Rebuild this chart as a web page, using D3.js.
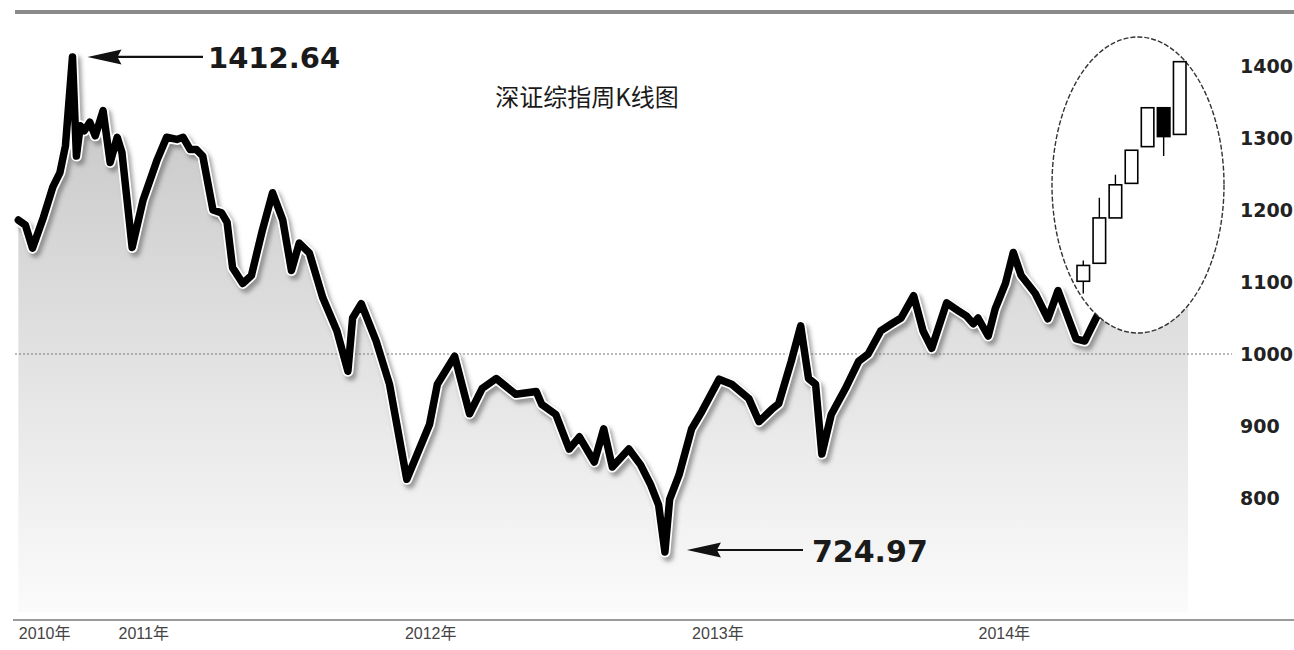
<!DOCTYPE html>
<html>
<head>
<meta charset="utf-8">
<script src="https://cdn.jsdelivr.net/npm/d3@7/dist/d3.min.js"></script>
<style>
  html, body { margin: 0; padding: 0; background: #fff; overflow: hidden; }
  svg { display: block; }
</style>
</head>
<body>
<svg id="chart" width="1294" height="650"></svg>
<script>
// ---------------- DATA ----------------
const dates = [
"2010-08-27","2010-09-05","2010-09-14","2010-09-28","2010-10-10","2010-10-19","2010-10-26","2010-11-04","2010-11-09","2010-11-14","2010-11-19","2010-11-26","2010-12-03","2010-12-13","2010-12-22","2010-12-31",
"2011-01-06","2011-01-19","2011-02-02","2011-02-20","2011-03-04","2011-03-17","2011-03-25","2011-04-03","2011-04-11","2011-04-19","2011-05-02","2011-05-13","2011-05-20","2011-05-27","2011-06-09","2011-06-20","2011-07-04","2011-07-17","2011-07-30","2011-08-10","2011-08-20","2011-09-02","2011-09-19","2011-10-07","2011-10-21","2011-10-27","2011-11-07","2011-11-26","2011-12-13",
"2012-01-04","2012-01-20","2012-02-02","2012-02-12","2012-03-05","2012-03-24","2012-04-09","2012-04-27","2012-05-22","2012-06-17","2012-06-24","2012-07-12","2012-07-29","2012-08-11","2012-08-30","2012-09-11","2012-09-22","2012-10-13","2012-10-28","2012-11-10","2012-11-20","2012-11-28","2012-12-04","2012-12-16",
"2013-01-01","2013-01-14","2013-02-05","2013-02-21","2013-03-15","2013-03-28","2013-04-13","2013-04-22","2013-05-08","2013-05-20","2013-05-30","2013-06-08","2013-06-16","2013-06-28","2013-07-16","2013-08-02","2013-08-14","2013-08-30","2013-09-13","2013-09-25","2013-10-11","2013-10-23","2013-11-03","2013-11-22","2013-12-07","2013-12-17","2013-12-26",
"2014-01-01","2014-01-14","2014-01-23","2014-02-05","2014-02-15","2014-02-25","2014-03-15","2014-03-31","2014-04-13","2014-04-26","2014-05-06","2014-05-17","2014-05-31","2014-06-09"];

const values = [
1186,1179,1147,1190,1232,1252,1289,1412.64,1275,1317,1310,1322,1303,1338,1266,1301,
1280,1148,1214,1270,1301,1298,1301,1284,1284,1275,1200,1196,1183,1120,1098,1109,1172,1224,1186,1116,1154,1140,1078,1032,976,1050,1070,1018,958,
826,868,902,958,997,917,952,966,944,948,930,916,868,885,850,896,843,868,846,818,790,724.97,798,832,
896,920,965,958,938,906,923,931,990,1039,966,958,861,916,952,990,1000,1032,1042,1050,1081,1032,1008,1071,1060,1053,1042,
1050,1025,1063,1098,1141,1109,1084,1049,1088,1050,1021,1018,1049,1067];

const xTickDates  = ["2010-08-27","2011-01-01","2012-01-01","2013-01-01","2014-01-01"];
const xTickLabels = ["2010年","2011年","2012年","2013年","2014年"];
const yTicks = [1400,1300,1200,1100,1000,900,800];

// weekly candlesticks in the inset
const candleOpen  = [1101,1126,1189,1237,1288,1342,1305];
const candleHigh  = [1130,1217,1249,1283,1342,1342,1406];
const candleLow   = [1084,1126,1189,1237,1288,1275,1305];
const candleClose = [1123,1189,1235,1283,1342,1302,1406];

const title = "深证综指周K线图";
const highLabel = "1412.64";
const lowLabel = "724.97";
const highValue = 1412.64, lowValue = 724.97;

// ---------------- CHART ----------------
const parse = d3.timeParse("%Y-%m-%d");
const series = dates.map((d, i) => ({ date: parse(d), value: values[i] }));

const svg = d3.select("#chart");

const x = d3.scaleTime()
  .domain([parse("2011-01-01"), parse("2014-01-01")])
  .range([118, 978]);
const y = d3.scaleLinear().domain([800, 1400]).range([498, 66]);

const defs = svg.append("defs");
const grad = defs.append("linearGradient")
  .attr("id", "areaGrad").attr("gradientUnits", "userSpaceOnUse")
  .attr("x1", 0).attr("x2", 0).attr("y1", 60).attr("y2", 612);
grad.append("stop").attr("offset", "0%").attr("stop-color", "#c4c4c4");
grad.append("stop").attr("offset", "45%").attr("stop-color", "#dddddd");
grad.append("stop").attr("offset", "100%").attr("stop-color", "#fbfbfb");

const blur = defs.append("filter").attr("id", "shadow")
  .attr("x", "-5%").attr("y", "-5%").attr("width", "110%").attr("height", "110%");
blur.append("feGaussianBlur").attr("stdDeviation", 2.2);

// top rule
svg.append("line").attr("x1", 15).attr("x2", 1294).attr("y1", 12).attr("y2", 12)
  .attr("stroke", "#8a8a8a").attr("stroke-width", 4);

// area under the line, continued to the right edge of the plot band
const areaRight = 1188, areaBottom = 612;
const last = series[series.length - 1];
const areaData = series.concat([{ date: x.invert(areaRight), value: last.value }]);
const area = d3.area()
  .x(d => x(d.date)).y0(areaBottom).y1(d => y(d.value));
svg.append("path").datum(areaData).attr("d", area).attr("fill", "url(#areaGrad)");

// dotted 1000 reference line
svg.append("line")
  .attr("x1", 15).attr("x2", 1232).attr("y1", y(1000)).attr("y2", y(1000))
  .attr("stroke", "#777").attr("stroke-width", 1).attr("stroke-dasharray", "2,2");

// the index line: shadow, white halo, black stroke
const line = d3.line().x(d => x(d.date)).y(d => y(d.value)).curve(d3.curveLinear);
svg.append("path").datum(series).attr("d", line)
  .attr("fill", "none").attr("stroke", "#555").attr("stroke-opacity", 0.55)
  .attr("stroke-width", 11).attr("stroke-linejoin", "round")
  .attr("transform", "translate(3,4)").attr("filter", "url(#shadow)");
svg.append("path").datum(series).attr("d", line)
  .attr("fill", "none").attr("stroke", "#fff")
  .attr("stroke-width", 11).attr("stroke-linejoin", "round").attr("stroke-linecap", "round");
svg.append("path").datum(series).attr("d", line)
  .attr("fill", "none").attr("stroke", "#000")
  .attr("stroke-width", 7.5).attr("stroke-linejoin", "round").attr("stroke-linecap", "round");

// inset ellipse
svg.append("ellipse")
  .attr("cx", 1138).attr("cy", 185).attr("rx", 86).attr("ry", 148)
  .attr("fill", "#fff").attr("stroke", "#333").attr("stroke-width", 1.4)
  .attr("stroke-dasharray", "5,2");

// candlesticks
const cx = d3.scaleBand().domain(d3.range(candleOpen.length))
  .range([1077, 1186]).paddingInner(0.22);
const cg = svg.append("g");
candleOpen.forEach((o, i) => {
  const c = candleClose[i];
  const xm = cx(i) + cx.bandwidth() / 2;
  cg.append("line")
    .attr("x1", xm).attr("x2", xm)
    .attr("y1", y(candleHigh[i])).attr("y2", y(candleLow[i]))
    .attr("stroke", "#000").attr("stroke-width", 1.4);
  cg.append("rect")
    .attr("x", cx(i)).attr("width", cx.bandwidth())
    .attr("y", y(Math.max(o, c))).attr("height", Math.max(1, Math.abs(y(o) - y(c))))
    .attr("fill", c >= o ? "#fff" : "#000")
    .attr("stroke", "#000").attr("stroke-width", 1.6);
});

// right axis labels
const yAxis = svg.append("g").attr("transform", "translate(1240,0)")
  .call(d3.axisRight(y).tickValues(yTicks).tickSize(0).tickPadding(0).tickFormat(d3.format("d")));
yAxis.select(".domain").remove();
yAxis.selectAll("text")
  .attr("font-family", "DejaVu Sans").attr("font-weight", "bold")
  .attr("font-size", 19).attr("fill", "#222")
  .attr("dy", "0.36em");

// bottom axis
svg.append("line").attr("x1", 13).attr("x2", 1294).attr("y1", 620).attr("y2", 620)
  .attr("stroke", "#9a9a9a").attr("stroke-width", 2);
const xAxis = svg.append("g").attr("transform", "translate(0,627)")
  .call(d3.axisBottom(x).tickValues(xTickDates.map(parse)).tickSize(0).tickPadding(0)
    .tickFormat((d, i) => xTickLabels[i]));
xAxis.select(".domain").remove();
xAxis.selectAll("text")
  .attr("text-anchor", "start")
  .attr("font-family", "Liberation Sans, 'Noto Sans CJK SC', sans-serif")
  .attr("font-size", 16).attr("fill", "#444").attr("dy", "0.72em");

// title
svg.append("text").attr("x", 587).attr("y", 106).attr("text-anchor", "middle")
  .attr("font-family", "'Noto Sans CJK SC', sans-serif").attr("font-size", 24)
  .attr("fill", "#1a1a1a").text(title);

// annotations
function arrow(tipX, endX, yy) {
  svg.append("line").attr("x1", tipX + 20).attr("x2", endX).attr("y1", yy).attr("y2", yy)
    .attr("stroke", "#111").attr("stroke-width", 2.2);
  svg.append("path")
    .attr("d", `M${tipX},${yy} L${tipX + 34},${yy - 7.5} L${tipX + 30},${yy} L${tipX + 34},${yy + 7.5} Z`)
    .attr("fill", "#111");
}
const hi = series.find(d => d.value === highValue);
const lo = series.find(d => d.value === lowValue);
arrow(x(hi.date) + 15, 203, y(highValue));
svg.append("text").attr("x", 208).attr("y", y(highValue) + 11)
  .attr("font-family", "DejaVu Sans").attr("font-weight", "bold").attr("font-size", 29)
  .attr("fill", "#1a1a1a").text(highLabel);
arrow(x(lo.date) + 22, 803, y(lowValue) - 2);
svg.append("text").attr("x", 812).attr("y", y(lowValue) + 10)
  .attr("font-family", "DejaVu Sans").attr("font-weight", "bold").attr("font-size", 30)
  .attr("fill", "#1a1a1a").text(lowLabel);
</script>
</body>
</html>
